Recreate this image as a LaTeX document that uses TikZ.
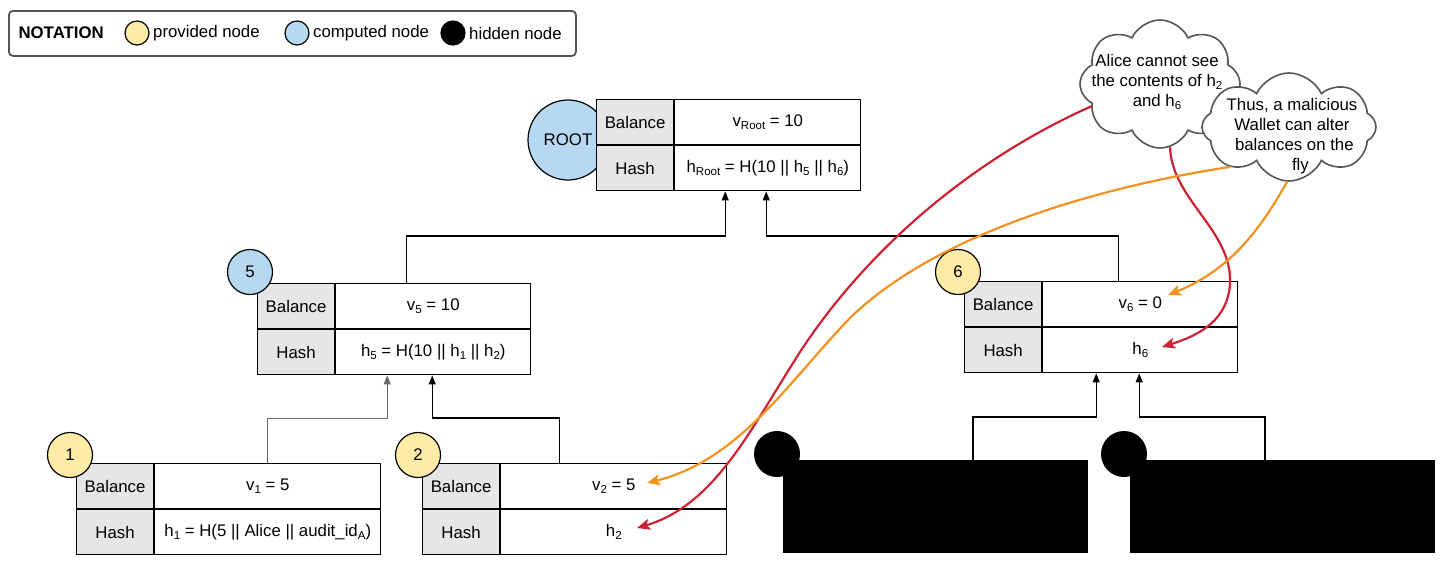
\documentclass[tikz,border=0pt]{standalone}
\usepackage{fontspec}
\setmainfont{Liberation Sans}
\usetikzlibrary{arrows.meta,shapes.symbols,calc}
\definecolor{provy}{RGB}{255,235,165}
\definecolor{compb}{RGB}{182,216,240}
\definecolor{cellg}{RGB}{230,230,230}
\definecolor{redc}{RGB}{204,34,51}
\definecolor{orac}{RGB}{243,146,30}
\definecolor{cloudl}{RGB}{85,85,85}
\newcommand\fs{\fontsize{16.8}{20}\selectfont}
\newcommand\sbs[1]{\raisebox{-0.35ex}{\fontsize{11.5}{12}\selectfont #1}}
\tikzset{
  cell/.style={draw=black, line width=1.2pt, minimum height=45pt, inner sep=0pt, anchor=north west},
  labcell/.style={cell, fill=cellg, minimum width=77pt},
  valcell/.style={cell, fill=white},
  badge/.style={circle, draw=black, line width=1.2pt, minimum size=45pt, inner sep=0pt},
  legdot/.style={circle, draw=black, line width=1.2pt, minimum size=24pt, inner sep=0pt},
  hidbox/.style={fill=black, draw=black, minimum width=304pt, minimum height=92pt, anchor=north west, inner sep=0pt},
  tree/.style={draw=black, line width=1.2pt, -{Triangle[width=7pt,length=9pt]}},
  cloudsty/.style={cloud, draw=cloudl, line width=1.6pt, fill=white, cloud puffs=8, cloud puff arc=130, aspect=1.3, inner sep=0pt},
  note/.style={line width=2.2pt, line cap=round, -{Stealth[length=13pt,width=11pt,inset=3pt]}},
}
\newcommand\mtable[6]{%
  \node[labcell] (#1-bl) at (#2,#3) {Balance};
  \node[valcell, minimum width=#4pt] (#1-bv) at (#1-bl.north east) {#5};
  \node[labcell] (#1-hl) at (#1-bl.south west) {Hash};
  \node[valcell, minimum width=#4pt] (#1-hv) at (#1-bl.south east) {#6};
}
\begin{document}
\begin{tikzpicture}[x=1pt, y=-1pt, font=\fs]
\useasboundingbox (0,0) rectangle (1456,571);
% legend
\node[draw=cloudl, line width=1.8pt, rounded corners=4pt, minimum width=567pt, minimum height=45pt, anchor=north west] (legend) at (8,10) {};
\node[font=\fs\bfseries, anchor=west] (legt) at (15,33) {NOTATION};
\node[legdot, fill=provy] (legy) at (137,33) {};
\node[anchor=west, inner sep=0pt] (legyt) at (153,33) {provided node};
\node[legdot, fill=compb] (legb) at (297,33) {};
\node[anchor=west, inner sep=0pt] (legbt) at (313,33) {computed node};
\node[legdot, fill=black] (legk) at (453,33) {};
\node[anchor=west, inner sep=0pt] (legkt) at (469,33) {hidden node};
% root
\node[circle, draw=black, line width=1.2pt, fill=compb, minimum size=80pt, inner sep=0pt] (rootc) at (568,140) {ROOT};
\mtable{root}{596}{99}{186}{v\sbs{Root} = 10}{h\sbs{Root} = H(10 || h\sbs{5} || h\sbs{6})}
% node 5
\mtable{n5}{257}{283}{195}{v\sbs{5} = 10}{h\sbs{5} = H(10 || h\sbs{1} || h\sbs{2})}
\node[badge, fill=compb] (b5) at (250,272) {5};
% node 6
\mtable{n6}{964}{281}{195}{v\sbs{6} = 0}{h\sbs{6}}
\node[badge, fill=provy] (b6) at (958,272) {6};
% node 1
\mtable{n1}{76}{463}{226}{v\sbs{1} = 5}{h\sbs{1} = H(5 || Alice || audit\_id\sbs{A})}
\node[badge, fill=provy] (b1) at (70,455) {1};
% node 2
\mtable{n2}{422}{463}{226}{v\sbs{2} = 5}{h\sbs{2}}
\node[badge, fill=provy] (b2) at (418,455) {2};
% hidden
\node[hidbox] (hid1) at (783,460) {};
\node[circle, fill=black, minimum size=46pt, inner sep=0pt] (hid1c) at (777,454) {};
\node[hidbox] (hid2) at (1130,460) {};
\node[circle, fill=black, minimum size=46pt, inner sep=0pt] (hid2c) at (1124,454) {};
% tree connectors
\draw[tree] ([xshift=71pt]n5-bv.north west) -- ++(0,-47) -| ([xshift=51pt]root-hv.south west);
\draw[tree] ([xshift=76pt]n6-bv.north west) -- ++(0,-45) -| ([xshift=92pt]root-hv.south west);
\draw[tree, draw=black!60, line width=1pt] ([xshift=113pt]n1-bv.north west) -- ++(0,-45) -| ([xshift=52pt]n5-hv.south west);
\draw[tree] ([xshift=59pt]n2-bv.north west) -- ++(0,-45) -| ([xshift=97pt]n5-hv.south west);
\draw[tree] ([xshift=190pt]hid1.north west) -- ++(0,-43) -| ([xshift=54pt]n6-hv.south west);
\draw[tree] ([xshift=135pt]hid2.north west) -- ++(0,-43) -| ([xshift=97pt]n6-hv.south west);
% clouds
\node[cloudsty, minimum width=160pt, minimum height=128pt] (cloud1) at (1160,84) {};
\node[align=center, inner sep=0pt] (c1t) at (1157,82) {Alice cannot see\\the contents of h\sbs{2}\\and h\sbs{6}};
\node[cloudsty, minimum width=174pt, minimum height=108pt] (cloud2) at (1289,127) {};
\node[align=center, inner sep=0pt] (c2t) at (1292,136) {Thus, a malicious\\Wallet can alter\\\ balances on the\\\quad fly};
% targets
\coordinate (tv2) at (647,483);
\coordinate (th2) at (637,528);
\coordinate (tv6) at (1168,295);
\coordinate (th6) at (1162,347);
% note arrows
\draw[note, redc] (cloud1.198) .. controls (960,165) and (860,260) .. (800,352) .. controls (750,430) and (715,505) .. (th2);
\draw[note, redc] (cloud1.279) .. controls (1172,200) and (1232,230) .. (1230,283) .. controls (1228,320) and (1200,335) .. (th6);
\draw[note, orac] (cloud2.214) .. controls (1080,190) and (930,240) .. (850,318) .. controls (790,380) and (740,460) .. (tv2);
\draw[note, orac] (cloud2.268) .. controls (1260,230) and (1230,270) .. (tv6);
\end{tikzpicture}
\end{document}
